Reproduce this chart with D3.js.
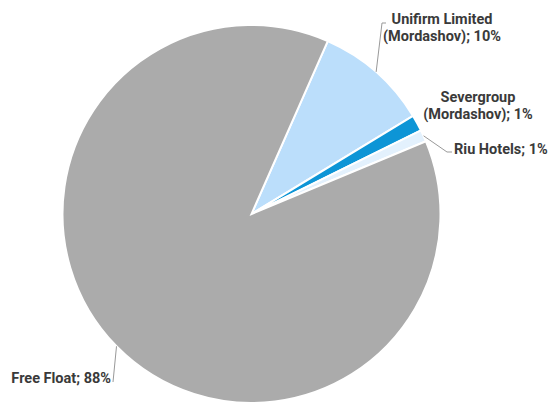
<!DOCTYPE html>
<html>
<head>
<meta charset="utf-8">
<script src="https://cdn.jsdelivr.net/npm/d3@7"></script>
<style>
  body { margin: 0; background: #fff; }
  text { font-family: Roboto, "Noto Sans", sans-serif; font-weight: bold; font-size: 14.5px; fill: #3a3a3a; }
</style>
</head>
<body>
<svg id="chart" width="560" height="404"></svg>
<script>
'use strict';

// shareholders
const holders = ['Unifirm Limited (Mordashov)', 'Severgroup (Mordashov)', 'Riu Hotels', 'Free Float'];
const shares = [9.7, 1.4, 1.0, 87.9];
const shareLabels = ['10%', '1%', '1%', '88%'];
const colours = ['#bbdefb', '#0d95d6', '#e3f1fd', '#ababab'];

const width = 560;
const height = 404;
const cx = 251.5;
const cy = 214;
const radius = 189;

const svg = d3.select('#chart');
const g = svg.append('g').attr('transform', 'translate(' + cx + ',' + cy + ')');

const startAngle = 23.8 * Math.PI / 180;

//noinspection JSUnresolvedFunction
const pie = d3.pie()
    .sort(null)
    .startAngle(startAngle)
    .endAngle(startAngle + 2 * Math.PI)
    .value(function(d) { return d; });

const arc = d3.arc().innerRadius(0).outerRadius(radius);

const slices = pie(shares);

g.selectAll('path.slice')
    .data(slices)
    .enter().append('path')
    .attr('class', 'slice')
    .attr('d', arc)
    .attr('fill', function(d, i) { return colours[i]; })
    .attr('stroke', '#fff')
    .attr('stroke-width', 2);

//
// Labels: lines of text, anchor and leader elbow (in svg coords)
//
const labelLayout = [
    { lines: ['Unifirm Limited', '(Mordashov); '], x: 442, y: 24, anchor: 'middle', elbow: [[382, 23], [386, 23]] },
    { lines: ['Severgroup', '(Mordashov); '], x: 478, y: 102, anchor: 'middle', elbow: null },
    { lines: ['Riu Hotels; '], x: 454, y: 154, anchor: 'start', elbow: [[447, 152], [452, 152]] },
    { lines: ['Free Float; '], x: 111, y: 383, anchor: 'end', elbow: [[113, 382]] }
];

const lineGap = 16.5;

slices.forEach(function(s, i) {
    const lay = labelLayout[i];
    const mid = (s.startAngle + s.endAngle) / 2;

    if (lay.elbow) {
        const pts = [[cx + radius * Math.sin(mid), cy - radius * Math.cos(mid)]].concat(lay.elbow);
        svg.append('path')
            .attr('d', d3.line()(pts))
            .attr('fill', 'none')
            .attr('stroke', '#999')
            .attr('stroke-width', 1);
    }

    const t = svg.append('text')
        .attr('text-anchor', lay.anchor);
    lay.lines.forEach(function(line, k) {
        const last = k === lay.lines.length - 1;
        t.append('tspan')
            .attr('x', lay.x)
            .attr('y', lay.y + k * lineGap)
            .text(last ? line + shareLabels[i] : line);
    });
});
</script>
</body>
</html>
